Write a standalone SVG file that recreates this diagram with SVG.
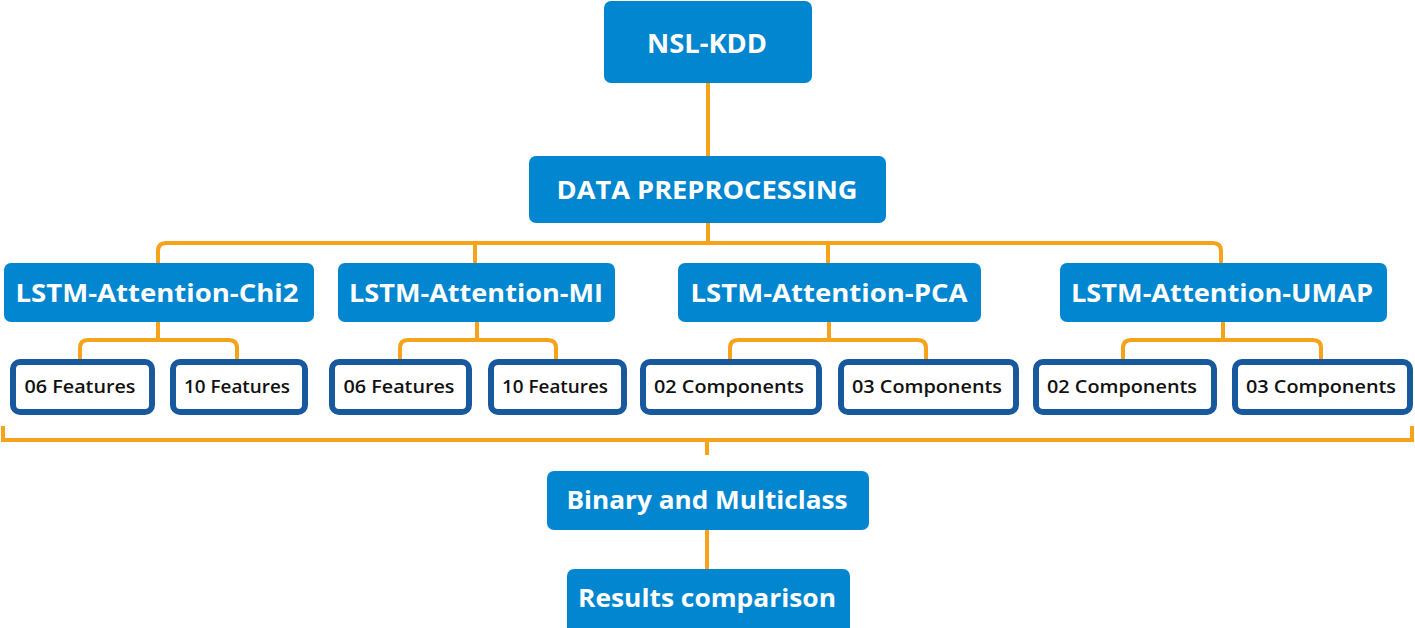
<svg xmlns="http://www.w3.org/2000/svg" width="1415" height="628" viewBox="0 0 1415 628">
<style>
.blue{fill:#0386d0;}
.wbox{fill:#ffffff;stroke:#17599c;stroke-width:6;}
.conn{fill:none;stroke:#f7a21b;stroke-width:4;stroke-linecap:butt;}
.t1{font-family:"Open Sans",sans-serif;font-weight:700;fill:#ffffff;text-anchor:middle;dominant-baseline:central;}
.t2{font-family:"Open Sans",sans-serif;font-weight:600;fill:#111111;text-anchor:middle;dominant-baseline:central;font-size:18px;}
</style>
<rect width="1415" height="628" fill="#ffffff"/>
<g id="connectors">
<path class="conn" d="M708,83 V243"/>
<path class="conn" d="M158,263 V251 Q158,243 166,243 H1213 Q1221,243 1221,251 V263"/>
<path class="conn" d="M475,243 V263"/>
<path class="conn" d="M828,243 V263"/>
<path class="conn" d="M158,322 V340"/>
<path class="conn" d="M80,359 V348 Q80,340 88,340 H229 Q237,340 237,348 V359"/>
<path class="conn" d="M477,322 V340"/>
<path class="conn" d="M400,359 V348 Q400,340 408,340 H548 Q556,340 556,348 V359"/>
<path class="conn" d="M829,322 V340"/>
<path class="conn" d="M730,359 V348 Q730,340 738,340 H918 Q926,340 926,348 V359"/>
<path class="conn" d="M1223,322 V340"/>
<path class="conn" d="M1123,359 V348 Q1123,340 1131,340 H1313 Q1321,340 1321,348 V359"/>
<path class="conn" d="M3,426 V440 H1412 V426"/>
<path class="conn" d="M707,440 V455"/>
<path class="conn" d="M707,530 V569"/>
</g>
<g id="nsl-kdd">
<rect class="blue" x="604" y="1" width="208" height="82" rx="7"/>
<text class="t1" x="707" y="42" font-size="27" textLength="120" lengthAdjust="spacingAndGlyphs">NSL-KDD</text>
</g>
<g id="data-preprocessing">
<rect class="blue" x="529" y="156" width="357" height="67" rx="7"/>
<text class="t1" x="707" y="189" font-size="25" textLength="301" lengthAdjust="spacingAndGlyphs">DATA PREPROCESSING</text>
</g>
<g id="chi2">
<rect class="blue" x="4" y="263" width="310" height="59" rx="7"/>
<text class="t1" x="157" y="292" font-size="25" textLength="283" lengthAdjust="spacingAndGlyphs">LSTM-Attention-Chi2</text>
</g>
<g id="mi">
<rect class="blue" x="338" y="263" width="277" height="59" rx="7"/>
<text class="t1" x="476" y="292" font-size="25" textLength="254" lengthAdjust="spacingAndGlyphs">LSTM-Attention-MI</text>
</g>
<g id="pca">
<rect class="blue" x="678" y="263" width="303" height="59" rx="7"/>
<text class="t1" x="829" y="292" font-size="25" textLength="277" lengthAdjust="spacingAndGlyphs">LSTM-Attention-PCA</text>
</g>
<g id="umap">
<rect class="blue" x="1060" y="263" width="327" height="59" rx="7"/>
<text class="t1" x="1222" y="292" font-size="25" textLength="302" lengthAdjust="spacingAndGlyphs">LSTM-Attention-UMAP</text>
</g>
<g id="chi2-06">
<rect class="wbox" x="13" y="362" width="139" height="50" rx="7"/>
<text class="t2" x="80" y="386" textLength="111" lengthAdjust="spacingAndGlyphs">06 Features</text>
</g>
<g id="chi2-10">
<rect class="wbox" x="173" y="362" width="132" height="50" rx="7"/>
<text class="t2" x="237" y="386" textLength="106" lengthAdjust="spacingAndGlyphs">10 Features</text>
</g>
<g id="mi-06">
<rect class="wbox" x="332" y="362" width="137" height="50" rx="7"/>
<text class="t2" x="399" y="386" textLength="111" lengthAdjust="spacingAndGlyphs">06 Features</text>
</g>
<g id="mi-10">
<rect class="wbox" x="491" y="362" width="133" height="50" rx="7"/>
<text class="t2" x="555" y="386" textLength="106" lengthAdjust="spacingAndGlyphs">10 Features</text>
</g>
<g id="pca-02">
<rect class="wbox" x="643" y="362" width="176" height="50" rx="7"/>
<text class="t2" x="729" y="386" textLength="150" lengthAdjust="spacingAndGlyphs">02 Components</text>
</g>
<g id="pca-03">
<rect class="wbox" x="841" y="362" width="175" height="50" rx="7"/>
<text class="t2" x="927" y="386" textLength="150" lengthAdjust="spacingAndGlyphs">03 Components</text>
</g>
<g id="umap-02">
<rect class="wbox" x="1036" y="362" width="178" height="50" rx="7"/>
<text class="t2" x="1122" y="386" textLength="150" lengthAdjust="spacingAndGlyphs">02 Components</text>
</g>
<g id="umap-03">
<rect class="wbox" x="1235" y="362" width="175" height="50" rx="7"/>
<text class="t2" x="1321" y="386" textLength="150" lengthAdjust="spacingAndGlyphs">03 Components</text>
</g>
<g id="binary-multiclass">
<rect class="blue" x="547" y="471" width="322" height="59" rx="7"/>
<text class="t1" x="707" y="499" font-size="25" textLength="281" lengthAdjust="spacingAndGlyphs">Binary and Multiclass</text>
</g>
<g id="results">
<rect class="blue" x="567" y="569" width="283" height="66" rx="7"/>
<text class="t1" x="707" y="597" font-size="25" textLength="258" lengthAdjust="spacingAndGlyphs">Results comparison</text>
</g>
</svg>
